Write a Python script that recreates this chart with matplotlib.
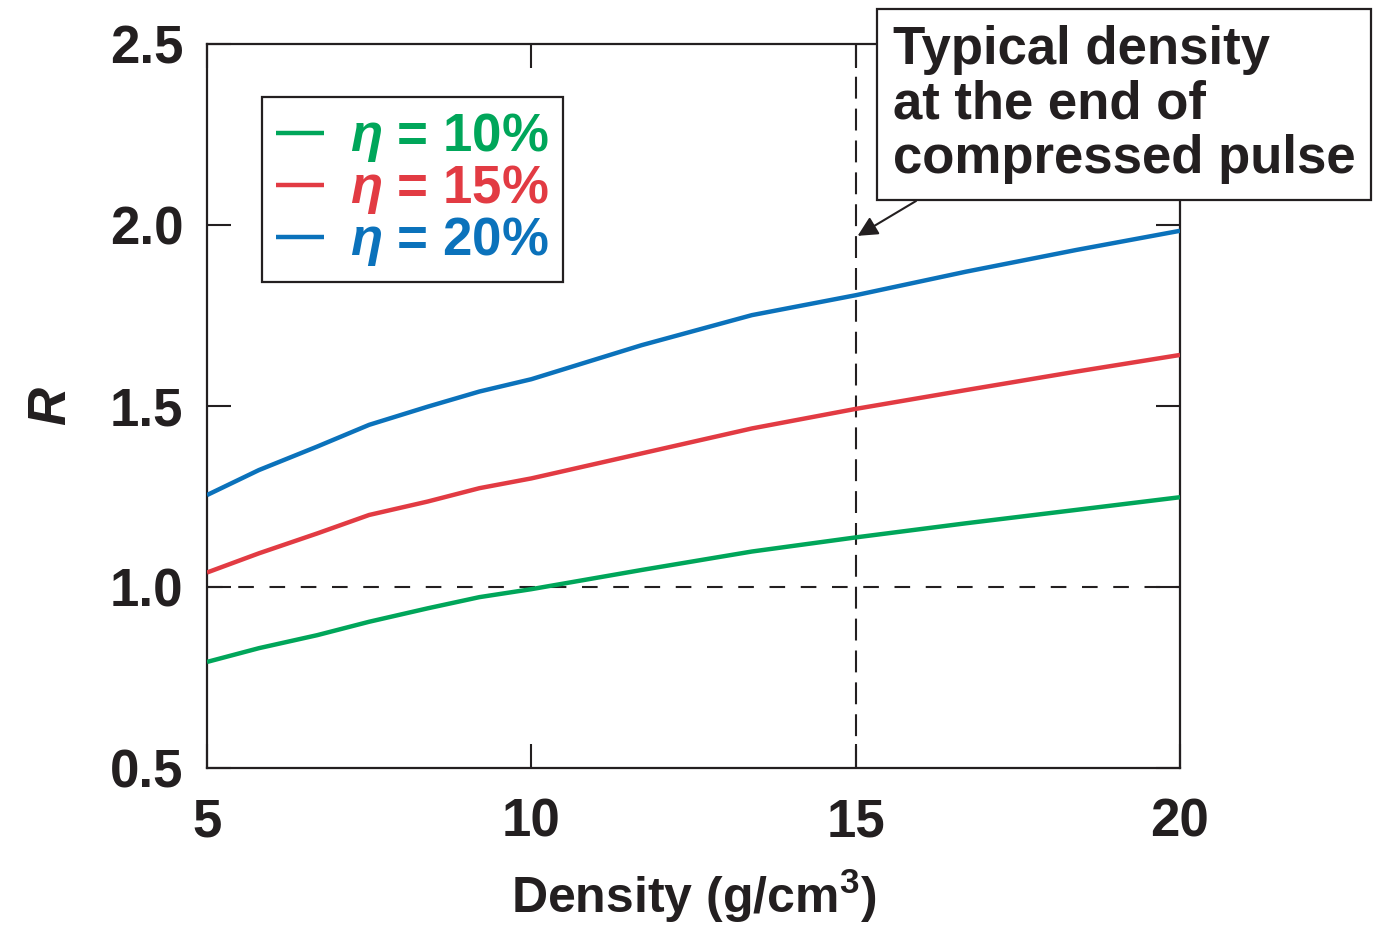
import matplotlib
matplotlib.use("Agg")
import matplotlib.pyplot as plt

plt.rcParams['font.family'] = ['Liberation Sans', 'DejaVu Sans']
plt.rcParams['font.weight'] = 'bold'
plt.rcParams['axes.labelweight'] = 'bold'
plt.rcParams['mathtext.fontset'] = 'custom'
plt.rcParams['mathtext.rm'] = 'Liberation Sans:bold'
plt.rcParams['mathtext.it'] = 'Liberation Sans:italic:bold'
plt.rcParams['mathtext.bf'] = 'Liberation Sans:bold'

# Data
density = [5, 5.8, 6.7, 7.5, 8.4, 9.2, 10, 11.7, 13.4, 15, 16.7, 18.4, 20]
r_eta10 = [0.793, 0.831, 0.867, 0.904, 0.941, 0.972, 0.994, 1.047, 1.098, 1.137, 1.176, 1.213, 1.248]
r_eta15 = [1.040, 1.093, 1.148, 1.199, 1.236, 1.273, 1.300, 1.369, 1.438, 1.492, 1.544, 1.595, 1.641]
r_eta20 = [1.254, 1.323, 1.388, 1.448, 1.498, 1.540, 1.574, 1.668, 1.751, 1.806, 1.871, 1.931, 1.984]
labels = [r'$\eta$ = 10%', r'$\eta$ = 15%', r'$\eta$ = 20%']
colors = ['#00a65a', '#e23b43', '#0b72bb']
xticks = [5, 10, 15, 20]
yticks = [0.5, 1.0, 1.5, 2.0, 2.5]
typical_density = 15
threshold = 1.0

fig = plt.figure(figsize=(13.74, 9.26), dpi=100)
ax = fig.add_axes([207/1374, 1-768/926, (1180-207)/1374, (768-44)/926])

ink = '#231f20'
for y, lab, c in zip([r_eta10, r_eta15, r_eta20], labels, colors):
    ax.plot(density, y, color=c, lw=3.2, label=lab, solid_capstyle='butt',
            solid_joinstyle='round', zorder=3)

ax.axhline(threshold, color=ink, lw=1.5, linestyle=(0, (7.5, 7.5)), zorder=2)
ax.axvline(typical_density, color=ink, lw=1.5, linestyle=(0, (10.5, 4.8)), zorder=2)

ax.set_xlim(5, 20)
ax.set_ylim(0.5, 2.5)
ax.set_xticks(xticks)
ax.set_yticks(yticks)
ax.set_xticklabels([str(v) for v in xticks])
ax.set_yticklabels([f'{v:.1f}' for v in yticks])
ax.tick_params(direction='in', length=17, width=1.5, color=ink, top=True, right=True,
               labelsize=38, labelcolor=ink)
ax.tick_params(axis='x', pad=21)
ax.tick_params(axis='y', pad=17)
for s in ax.spines.values():
    s.set_linewidth(1.6)
    s.set_color(ink)

ax.set_xlabel('Density (g/cm$^{3}$)', fontsize=36, color=ink, labelpad=14)
ax.set_ylabel('$R$', fontsize=38, color=ink, labelpad=24)

leg = ax.legend(loc='upper left', bbox_to_anchor=((262-207)/973, (768-97)/724),
                borderaxespad=0, fontsize=38, frameon=True, fancybox=False,
                edgecolor=ink, framealpha=1, handlelength=0.9, handletextpad=0.5,
                labelspacing=-0.02, borderpad=0.27, labelcolor='linecolor')
leg.get_frame().set_linewidth(1.6)

ann = ax.annotate('Typical density\nat the end of\ncompressed pulse',
                  xy=(15.03, 1.97), xycoords='data',
                  xytext=(893/1374, 1-25/926), textcoords='figure fraction',
                  ha='left', va='top', fontsize=38, color=ink, linespacing=1.12,
                  bbox=dict(boxstyle='square,pad=0.3', fc='white', ec=ink, lw=1.6),
                  arrowprops=dict(arrowstyle='-|>', color=ink, lw=1.5,
                                  mutation_scale=30, shrinkA=0, shrinkB=0,
                                  relpos=(0.11, 0.0)),
                  annotation_clip=False, zorder=5)

fig.savefig('out.png', dpi=100)
